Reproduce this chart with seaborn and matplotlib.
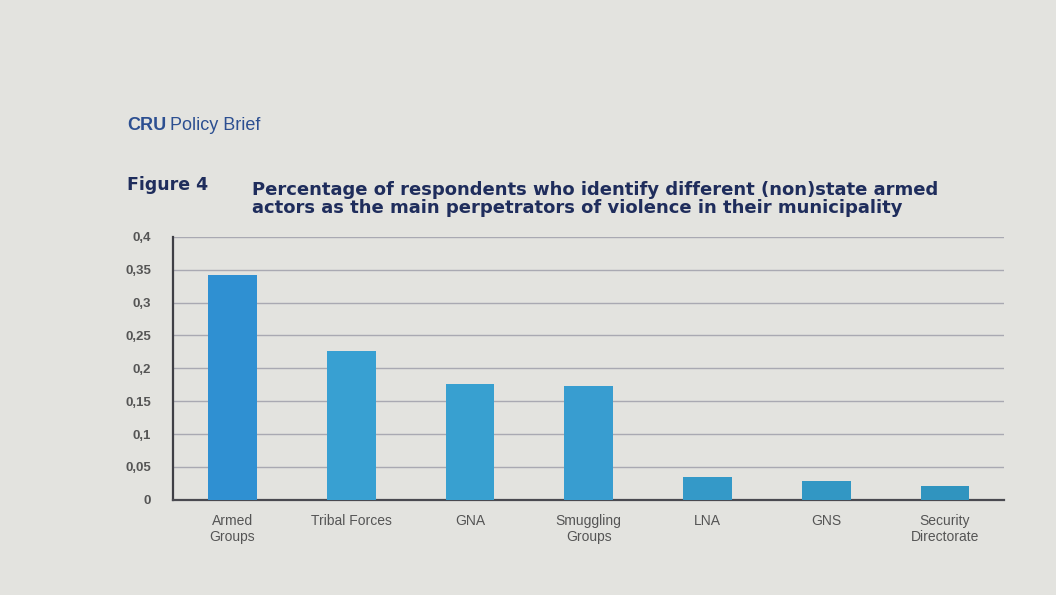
import matplotlib
matplotlib.use("Agg")
import matplotlib.pyplot as plt
import seaborn as sns
import pandas as pd

# Data
actors = ["Armed\nGroups", "Tribal Forces", "GNA", "Smuggling\nGroups",
          "LNA", "GNS", "Security\nDirectorate"]
share = [0.342, 0.227, 0.176, 0.173, 0.035, 0.029, 0.021]
y_ticks = [0, 0.05, 0.1, 0.15, 0.2, 0.25, 0.3, 0.35, 0.4]
y_tick_labels = ["0", "0,05", "0,1", "0,15", "0,2", "0,25", "0,3", "0,35", "0,4"]
bar_colors = ["#2f90d2", "#38a0d2", "#38a0d0", "#389dd0", "#3499c8", "#3297c4", "#3094bf"]

df = pd.DataFrame({"actor": actors, "share": share})

sns.set_style("white")
plt.rcParams["font.family"] = ["Liberation Sans", "DejaVu Sans"]

bg = "#e3e3df"
fig = plt.figure(figsize=(10.56, 5.95), dpi=100, facecolor=bg)
ax = fig.add_axes([0.164, 0.160, 0.787, 0.442])
ax.set_facecolor(bg)

sns.barplot(data=df, x="actor", y="share", hue="actor", palette=bar_colors,
            legend=False, width=0.41, saturation=1, edgecolor="none",
            linewidth=0, ax=ax, zorder=3)

ax.set_ylim(0, 0.4)
ax.set_xlim(-0.5, len(actors) - 0.5)
ax.set_yticks(y_ticks)
ax.set_yticklabels(y_tick_labels, fontsize=9.5, color="#555555", fontweight="bold")
ax.tick_params(axis="x", labelsize=10, labelcolor="#555555", length=0, pad=10)
ax.tick_params(axis="y", length=0, pad=16)
ax.set_xlabel("")
ax.set_ylabel("")
ax.yaxis.grid(True, color="#a9a9b2", linewidth=1, zorder=0)
ax.set_axisbelow(True)

for s in ["top", "right"]:
    ax.spines[s].set_visible(False)
ax.spines["left"].set_color("#3f3f45")
ax.spines["left"].set_linewidth(1.6)
ax.spines["bottom"].set_color("#4a4a50")
ax.spines["bottom"].set_linewidth(1.6)

# Header texts
fig.text(127 / 1056, 1 - 126 / 595, "CRU", fontsize=13, fontweight="bold",
         color="#2c4f91", va="center", ha="left")
fig.text(170 / 1056, 1 - 126 / 595, "Policy Brief", fontsize=13,
         color="#2c4f91", va="center", ha="left")
fig.text(127 / 1056, 1 - 185 / 595, "Figure 4", fontsize=12.5, fontweight="bold",
         family="DejaVu Sans", color="#1f2d5c", va="center", ha="left")
fig.text(252 / 1056, 1 - 199 / 595,
         "Percentage of respondents who identify different (non)state armed\n"
         "actors as the main perpetrators of violence in their municipality",
         fontsize=13, fontweight="bold", family="DejaVu Sans", color="#1f2d5c",
         va="center", ha="left", linespacing=1.0)

fig.savefig("out.png", dpi=100, facecolor=bg)
